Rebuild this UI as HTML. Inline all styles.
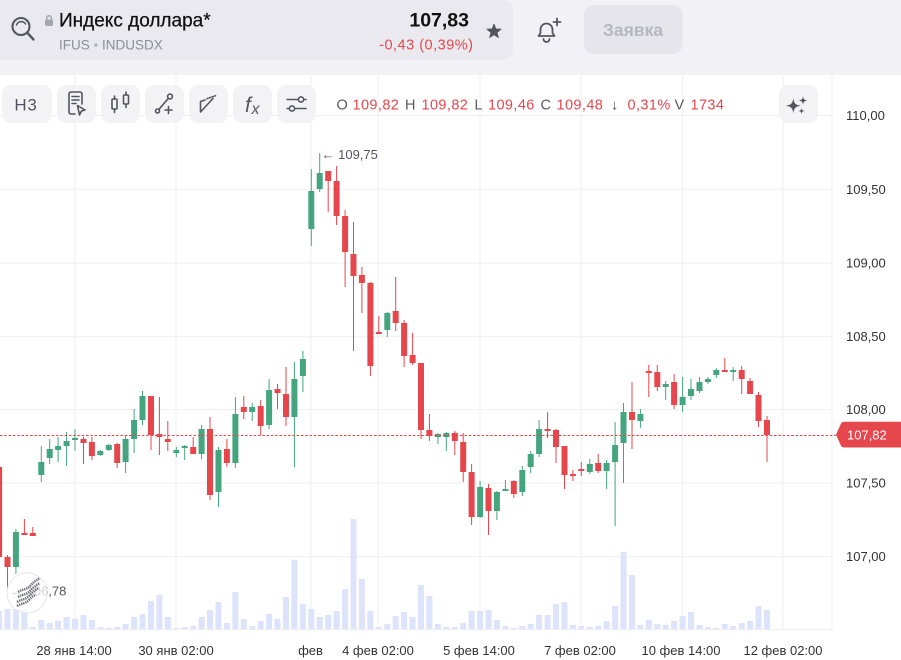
<!DOCTYPE html>
<html><head><meta charset="utf-8"><style>
html,body{margin:0;padding:0;background:#fff;}
body{width:901px;height:660px;overflow:hidden;font-family:"Liberation Sans","Noto Sans CJK SC",sans-serif;}
svg{display:block;}
text{font-family:"Liberation Sans","Noto Sans CJK SC",sans-serif;}
</style></head><body>
<svg width="901" height="660" viewBox="0 0 901 660" xmlns="http://www.w3.org/2000/svg">
<rect x="0" y="0" width="901" height="75" fill="#f2f2f6"/>
<rect x="-12" y="0" width="525" height="59.5" rx="10" fill="#e9e9ef"/>
<rect x="584" y="5" width="98.5" height="49" rx="10" fill="#e5e5eb"/>
<g fill="none" stroke="#55555f" stroke-linecap="round">
<circle cx="21" cy="26.5" r="8.5" stroke-width="2.1"/>
<path d="M16.5,25 A5,5 0 0 1 25.5,24" stroke-width="1.5"/>
<line x1="27.5" y1="33" x2="33.5" y2="39.5" stroke-width="2.4"/>
</g>
<rect x="45" y="19.5" width="8" height="6.5" rx="1.5" fill="#a5a5ae"/>
<path d="M46.6,19.8 v-1.6 a2.4,2.4 0 0 1 4.8,0 v1.6" fill="none" stroke="#a5a5ae" stroke-width="1.5"/>
<text x="59" y="26.5" font-size="19" fill="#111" stroke="#111" stroke-width="0.25">Индекс доллара*</text>
<text x="59" y="49.3" font-size="13.5" fill="#8e8e99">IFUS <tspan fill="#b5b5bd">•</tspan> INDUSDX</text>
<text x="469" y="26.5" font-size="19.5" font-weight="bold" fill="#111" text-anchor="end">107,83</text>
<text x="473.5" y="49.3" font-size="14.5" fill="#e5484d" text-anchor="end" letter-spacing="0.5">-0,43 (0,39%)</text>
<polygon points="494,24 495.88,28.91 501.13,29.18 497.04,32.49 498.41,37.57 494,34.7 489.59,37.57 490.96,32.49 486.87,29.18 492.12,28.91" fill="#55555f" stroke="#55555f" stroke-width="0.8" stroke-linejoin="round"/>
<g fill="none" stroke="#55555f" stroke-width="1.8" stroke-linecap="round" stroke-linejoin="round">
<path d="M538.5,36 H554.5 L552.5,33 V29.5 A6,6 0 0 0 540.5,29.5 V33 Z"/>
<path d="M543.5,39 A3,3 0 0 0 549.5,39"/>
<path d="M557,18.5 v7 M553.5,22 h7"/>
</g>
<text x="633" y="36" font-size="17.5" font-weight="bold" fill="#b7b7c2" text-anchor="middle">Заявка</text>

<g stroke="#efeff2" stroke-width="1">
<line x1="0" y1="115.5" x2="832" y2="115.5"/>
<line x1="0" y1="189.3" x2="832" y2="189.3"/>
<line x1="0" y1="263" x2="832" y2="263"/>
<line x1="0" y1="336.7" x2="832" y2="336.7"/>
<line x1="0" y1="409.5" x2="832" y2="409.5"/>
<line x1="0" y1="483" x2="832" y2="483"/>
<line x1="0" y1="556.7" x2="832" y2="556.7"/>
<line x1="0" y1="629.5" x2="832" y2="629.5"/>
<line x1="75" y1="75" x2="75" y2="629.5"/>
<line x1="176" y1="75" x2="176" y2="629.5"/>
<line x1="311" y1="75" x2="311" y2="629.5"/>
<line x1="378" y1="75" x2="378" y2="629.5"/>
<line x1="480" y1="75" x2="480" y2="629.5"/>
<line x1="581" y1="75" x2="581" y2="629.5"/>
<line x1="682.5" y1="75" x2="682.5" y2="629.5"/>
<line x1="783" y1="75" x2="783" y2="629.5"/>
<line x1="832" y1="75" x2="832" y2="629.5"/>
</g>

<g fill="#dde3fb">
<rect x="-3.9" y="611" width="6" height="18"/><rect x="4.5" y="609" width="6" height="20"/><rect x="12.9" y="609" width="6" height="20"/><rect x="21.4" y="609" width="6" height="20"/><rect x="29.8" y="627" width="6" height="2"/><rect x="38.3" y="620" width="6" height="9"/><rect x="46.7" y="623" width="6" height="6"/><rect x="55.1" y="621" width="6" height="8"/><rect x="63.6" y="617" width="6" height="12"/><rect x="72" y="619" width="6" height="10"/><rect x="80.5" y="615" width="6" height="14"/><rect x="88.9" y="620" width="6" height="9"/><rect x="97.3" y="627" width="6" height="2"/><rect x="105.8" y="628" width="6" height="1"/><rect x="114.2" y="627" width="6" height="2"/><rect x="122.6" y="624" width="6" height="5"/><rect x="131.1" y="617" width="6" height="12"/><rect x="139.5" y="614" width="6" height="15"/><rect x="148" y="601" width="6" height="28"/><rect x="156.4" y="595" width="6" height="34"/><rect x="164.8" y="617" width="6" height="12"/><rect x="173.3" y="628" width="6" height="1"/><rect x="181.7" y="627" width="6" height="2"/><rect x="190.2" y="626" width="6" height="3"/><rect x="198.6" y="617" width="6" height="12"/><rect x="207" y="610" width="6" height="19"/><rect x="215.5" y="602" width="6" height="27"/><rect x="223.9" y="623" width="6" height="6"/><rect x="232.4" y="592" width="6" height="37"/><rect x="240.8" y="619" width="6" height="10"/><rect x="249.2" y="626" width="6" height="3"/><rect x="257.7" y="621" width="6" height="8"/><rect x="266.1" y="614" width="6" height="15"/><rect x="274.5" y="619" width="6" height="10"/><rect x="283" y="597" width="6" height="32"/><rect x="291.4" y="560" width="6" height="69"/><rect x="299.9" y="604" width="6" height="25"/><rect x="308.3" y="609" width="6" height="20"/><rect x="316.7" y="617" width="6" height="12"/><rect x="325.2" y="615" width="6" height="14"/><rect x="333.6" y="611" width="6" height="18"/><rect x="342.1" y="589" width="6" height="40"/><rect x="350.5" y="519" width="6" height="110"/><rect x="358.9" y="579" width="6" height="50"/><rect x="367.4" y="611" width="6" height="18"/><rect x="375.8" y="627" width="6" height="2"/><rect x="384.3" y="624" width="6" height="5"/><rect x="392.7" y="616" width="6" height="13"/><rect x="401.1" y="612" width="6" height="17"/><rect x="409.6" y="617" width="6" height="12"/><rect x="418" y="585" width="6" height="44"/><rect x="426.4" y="596" width="6" height="33"/><rect x="434.9" y="624" width="6" height="5"/><rect x="443.3" y="627" width="6" height="2"/><rect x="451.8" y="627" width="6" height="2"/><rect x="460.2" y="623" width="6" height="6"/><rect x="468.6" y="611" width="6" height="18"/><rect x="477.1" y="611" width="6" height="18"/><rect x="485.5" y="610" width="6" height="19"/><rect x="493.9" y="620" width="6" height="9"/><rect x="502.4" y="626" width="6" height="3"/><rect x="510.8" y="628" width="6" height="1"/><rect x="519.3" y="626" width="6" height="3"/><rect x="527.7" y="624" width="6" height="5"/><rect x="536.1" y="615" width="6" height="14"/><rect x="544.6" y="615" width="6" height="14"/><rect x="553" y="604" width="6" height="25"/><rect x="561.5" y="602" width="6" height="27"/><rect x="569.9" y="625" width="6" height="4"/><rect x="578.3" y="626" width="6" height="3"/><rect x="586.8" y="627" width="6" height="2"/><rect x="595.2" y="626" width="6" height="3"/><rect x="603.6" y="621" width="6" height="8"/><rect x="612.1" y="606" width="6" height="23"/><rect x="620.5" y="552" width="6" height="77"/><rect x="629" y="575" width="6" height="54"/><rect x="637.4" y="625" width="6" height="4"/><rect x="645.8" y="620" width="6" height="9"/><rect x="654.3" y="624" width="6" height="5"/><rect x="662.7" y="625" width="6" height="4"/><rect x="671.1" y="621" width="6" height="8"/><rect x="679.6" y="616" width="6" height="13"/><rect x="688" y="612" width="6" height="17"/><rect x="696.5" y="625" width="6" height="4"/><rect x="704.9" y="627" width="6" height="2"/><rect x="713.3" y="628" width="6" height="1"/><rect x="721.8" y="624" width="6" height="5"/><rect x="730.2" y="626" width="6" height="3"/><rect x="738.7" y="623" width="6" height="6"/><rect x="747.1" y="621" width="6" height="8"/><rect x="755.5" y="606" width="6" height="23"/><rect x="764" y="610" width="6" height="19"/>
</g>

<g fill="#44a57f">
<rect x="12.9" y="532" width="6" height="35"/><rect x="15.4" y="529" width="1" height="45"/>
<rect x="38.3" y="462" width="6" height="13"/><rect x="40.8" y="446" width="1" height="36"/>
<rect x="46.7" y="449" width="6" height="9"/><rect x="49.2" y="439" width="1" height="25"/>
<rect x="55.1" y="446" width="6" height="4"/><rect x="57.6" y="437" width="1" height="25"/>
<rect x="63.6" y="441" width="6" height="5"/><rect x="66.1" y="432" width="1" height="34"/>
<rect x="72" y="438" width="6" height="2"/><rect x="74.5" y="429" width="1" height="22"/>
<rect x="97.3" y="451" width="6" height="4"/><rect x="99.8" y="450" width="1" height="6"/>
<rect x="105.8" y="445" width="6" height="5"/><rect x="108.3" y="444" width="1" height="7"/>
<rect x="122.6" y="439" width="6" height="23"/><rect x="125.1" y="436" width="1" height="37"/>
<rect x="131.1" y="420" width="6" height="19"/><rect x="133.6" y="409" width="1" height="44"/>
<rect x="139.5" y="396" width="6" height="24"/><rect x="142" y="391" width="1" height="34"/>
<rect x="173.3" y="450" width="6" height="3"/><rect x="175.8" y="447" width="1" height="10"/>
<rect x="181.7" y="446" width="6" height="2"/><rect x="184.2" y="445" width="1" height="15"/>
<rect x="198.6" y="429" width="6" height="25"/><rect x="201.1" y="425" width="1" height="34"/>
<rect x="215.5" y="450" width="6" height="42"/><rect x="218" y="447" width="1" height="60"/>
<rect x="232.4" y="414" width="6" height="49"/><rect x="234.9" y="397" width="1" height="71"/>
<rect x="249.2" y="407" width="6" height="5"/><rect x="251.7" y="403" width="1" height="18"/>
<rect x="266.1" y="390" width="6" height="35"/><rect x="268.6" y="379" width="1" height="50"/>
<rect x="291.4" y="379" width="6" height="38"/><rect x="293.9" y="362" width="1" height="105"/>
<rect x="299.9" y="359" width="6" height="17"/><rect x="302.4" y="351" width="1" height="41"/>
<rect x="308.3" y="191" width="6" height="38"/><rect x="310.8" y="169" width="1" height="77"/>
<rect x="316.7" y="173" width="6" height="16"/><rect x="319.2" y="153" width="1" height="39"/>
<rect x="384.3" y="313" width="6" height="17"/><rect x="386.8" y="312" width="1" height="25"/>
<rect x="434.9" y="434" width="6" height="3"/><rect x="437.4" y="433" width="1" height="11"/>
<rect x="443.3" y="433" width="6" height="4"/><rect x="445.8" y="432" width="1" height="19"/>
<rect x="477.1" y="487" width="6" height="30"/><rect x="479.6" y="481" width="1" height="37"/>
<rect x="493.9" y="492" width="6" height="19"/><rect x="496.4" y="491" width="1" height="29"/>
<rect x="502.4" y="489" width="6" height="2"/><rect x="504.9" y="480" width="1" height="11"/>
<rect x="519.3" y="470" width="6" height="22"/><rect x="521.8" y="466" width="1" height="30"/>
<rect x="527.7" y="454" width="6" height="13"/><rect x="530.2" y="451" width="1" height="22"/>
<rect x="536.1" y="429" width="6" height="25"/><rect x="538.6" y="420" width="1" height="37"/>
<rect x="586.8" y="464" width="6" height="8"/><rect x="589.3" y="459" width="1" height="15"/>
<rect x="603.6" y="463" width="6" height="8"/><rect x="606.1" y="460" width="1" height="29"/>
<rect x="612.1" y="445" width="6" height="17"/><rect x="614.6" y="422" width="1" height="104"/>
<rect x="620.5" y="412" width="6" height="31"/><rect x="623" y="403" width="1" height="80"/>
<rect x="637.4" y="414" width="6" height="7"/><rect x="639.9" y="409" width="1" height="19"/>
<rect x="662.7" y="384" width="6" height="3"/><rect x="665.2" y="381" width="1" height="19"/>
<rect x="679.6" y="397" width="6" height="8"/><rect x="682.1" y="377" width="1" height="35"/>
<rect x="688" y="389" width="6" height="7"/><rect x="690.5" y="379" width="1" height="21"/>
<rect x="696.5" y="382" width="6" height="9"/><rect x="699" y="377" width="1" height="16"/>
<rect x="704.9" y="379" width="6" height="3"/><rect x="707.4" y="377" width="1" height="7"/>
<rect x="713.3" y="370" width="6" height="5"/><rect x="715.8" y="368" width="1" height="10"/>
<rect x="730.2" y="370" width="6" height="2"/><rect x="732.7" y="367" width="1" height="14"/>
</g>

<g fill="#e5474d">
<rect x="-3.9" y="467" width="6" height="90"/>
<rect x="4.5" y="557" width="6" height="10"/><rect x="7" y="555" width="1" height="34"/>
<rect x="21.4" y="533" width="6" height="2"/><rect x="23.9" y="519" width="1" height="16"/>
<rect x="29.8" y="533" width="6" height="3"/><rect x="32.3" y="527" width="1" height="9"/>
<rect x="80.5" y="439" width="6" height="4"/><rect x="83" y="437" width="1" height="27"/>
<rect x="88.9" y="442" width="6" height="14"/><rect x="91.4" y="437" width="1" height="23"/>
<rect x="114.2" y="444" width="6" height="19"/><rect x="116.7" y="443" width="1" height="25"/>
<rect x="148" y="396" width="6" height="39"/><rect x="150.5" y="396" width="1" height="54"/>
<rect x="156.4" y="434" width="6" height="3"/><rect x="158.9" y="397" width="1" height="58"/>
<rect x="164.8" y="439" width="6" height="3"/><rect x="167.3" y="421" width="1" height="30"/>
<rect x="190.2" y="447" width="6" height="7"/><rect x="192.7" y="437" width="1" height="17"/>
<rect x="207" y="429" width="6" height="66"/><rect x="209.5" y="417" width="1" height="83"/>
<rect x="223.9" y="449" width="6" height="14"/><rect x="226.4" y="439" width="1" height="28"/>
<rect x="240.8" y="407" width="6" height="5"/><rect x="243.3" y="396" width="1" height="23"/>
<rect x="257.7" y="406" width="6" height="20"/><rect x="260.2" y="400" width="1" height="35"/>
<rect x="274.5" y="389" width="6" height="4"/><rect x="277" y="384" width="1" height="25"/>
<rect x="283" y="394" width="6" height="23"/><rect x="285.5" y="367" width="1" height="59"/>
<rect x="325.2" y="171" width="6" height="10"/><rect x="327.7" y="171" width="1" height="41"/>
<rect x="333.6" y="181" width="6" height="35"/><rect x="336.1" y="166" width="1" height="59"/>
<rect x="342.1" y="216" width="6" height="36"/><rect x="344.6" y="210" width="1" height="77"/>
<rect x="350.5" y="254" width="6" height="22"/><rect x="353" y="222" width="1" height="129"/>
<rect x="358.9" y="275" width="6" height="8"/><rect x="361.4" y="267" width="1" height="46"/>
<rect x="367.4" y="283" width="6" height="83"/><rect x="369.9" y="282" width="1" height="94"/>
<rect x="375.8" y="332" width="6" height="2"/><rect x="378.3" y="316" width="1" height="18"/>
<rect x="392.7" y="311" width="6" height="12"/><rect x="395.2" y="277" width="1" height="54"/>
<rect x="401.1" y="323" width="6" height="33"/><rect x="403.6" y="320" width="1" height="47"/>
<rect x="409.6" y="355" width="6" height="8"/><rect x="412.1" y="333" width="1" height="32"/>
<rect x="418" y="363" width="6" height="67"/><rect x="420.5" y="363" width="1" height="76"/>
<rect x="426.4" y="430" width="6" height="6"/><rect x="428.9" y="414" width="1" height="27"/>
<rect x="451.8" y="433" width="6" height="8"/><rect x="454.3" y="431" width="1" height="24"/>
<rect x="460.2" y="442" width="6" height="30"/><rect x="462.7" y="433" width="1" height="49"/>
<rect x="468.6" y="472" width="6" height="45"/><rect x="471.1" y="464" width="1" height="61"/>
<rect x="485.5" y="488" width="6" height="23"/><rect x="488" y="484" width="1" height="51"/>
<rect x="510.8" y="481" width="6" height="13"/><rect x="513.3" y="480" width="1" height="18"/>
<rect x="544.6" y="429" width="6" height="2"/><rect x="547.1" y="412" width="1" height="26"/>
<rect x="553" y="430" width="6" height="17"/><rect x="555.5" y="429" width="1" height="34"/>
<rect x="561.5" y="446" width="6" height="29"/><rect x="564" y="446" width="1" height="43"/>
<rect x="569.9" y="474" width="6" height="2"/><rect x="572.4" y="470" width="1" height="11"/>
<rect x="578.3" y="469" width="6" height="2"/><rect x="580.8" y="462" width="1" height="14"/>
<rect x="595.2" y="463" width="6" height="8"/><rect x="597.7" y="454" width="1" height="19"/>
<rect x="629" y="412" width="6" height="8"/><rect x="631.5" y="382" width="1" height="67"/>
<rect x="645.8" y="371" width="6" height="2"/><rect x="648.3" y="365" width="1" height="32"/>
<rect x="654.3" y="372" width="6" height="15"/><rect x="656.8" y="365" width="1" height="26"/>
<rect x="671.1" y="382" width="6" height="23"/><rect x="673.6" y="374" width="1" height="35"/>
<rect x="721.8" y="370" width="6" height="2"/><rect x="724.3" y="358" width="1" height="14"/>
<rect x="738.7" y="370" width="6" height="9"/><rect x="741.2" y="366" width="1" height="28"/>
<rect x="747.1" y="381" width="6" height="13"/><rect x="749.6" y="378" width="1" height="16"/>
<rect x="755.5" y="395" width="6" height="26"/><rect x="758" y="392" width="1" height="35"/>
<rect x="764" y="420" width="6" height="15"/><rect x="766.5" y="416" width="1" height="46"/>
</g>

<line x1="0" y1="435.5" x2="836" y2="435.5" stroke="#e5474d" stroke-width="1" stroke-dasharray="2.5,1.8"/>
<path d="M836,434.7 L841,423.5 Q842,421.7 844,421.7 H901 V447.5 H844 Q842,447.5 841,445.8 Z" fill="#e5474d"/>
<text x="847" y="439.5" font-size="13" fill="#ffffff">107,82</text>

<text x="321.5" y="158.8" font-size="13" fill="#55555f">← 109,75</text>
<text x="10" y="595.5" font-size="13" fill="#55555f">← 106,78</text>

<circle cx="27" cy="593" r="20" fill="#ffffff" fill-opacity="0.75" stroke="#e6e6ea" stroke-width="1"/>
<g fill="none" stroke="#6e6e7a" stroke-width="2.4" stroke-dasharray="1.4,0.8">
<path d="M17,602 C22,599 25,600 29,596 S35,590 39,588"/>
<path d="M18,597 C23,594 26,595 30,591 S36,585 40,583"/>
<path d="M18,592 C23,589 26,590 30,586 S36,580 40,578"/>
<path d="M17,606 C22,603 25,604 29,600 S33,596 36,595"/>
</g>

<g font-size="13" fill="#333">
<text x="846" y="120">110,00</text>
<text x="846" y="193.8">109,50</text>
<text x="846" y="267.5">109,00</text>
<text x="846" y="341.2">108,50</text>
<text x="846" y="414">108,00</text>
<text x="846" y="487.5">107,50</text>
<text x="846" y="561.2">107,00</text>
</g>

<g font-size="13" fill="#333" text-anchor="middle">
<text x="74" y="655">28 янв 14:00</text>
<text x="176" y="655">30 янв 02:00</text>
<text x="310.5" y="655">фев</text>
<text x="378" y="655">4 фев 02:00</text>
<text x="479" y="655">5 фев 14:00</text>
<text x="580" y="655">7 фев 02:00</text>
<text x="681" y="655">10 фев 14:00</text>
<text x="783" y="655">12 фев 02:00</text>
</g>

<g fill="#f3f3f6">
<rect x="2" y="85" width="50" height="38" rx="9"/>
<rect x="57" y="85" width="39" height="38" rx="9"/>
<rect x="101" y="85" width="39" height="38" rx="9"/>
<rect x="145" y="85" width="39" height="38" rx="9"/>
<rect x="189" y="85" width="39" height="38" rx="9"/>
<rect x="233" y="85" width="39" height="38" rx="9"/>
<rect x="277" y="85" width="39" height="38" rx="9"/>
<rect x="779" y="85" width="39" height="38" rx="9"/>
</g>
<text x="26" y="110.5" font-size="17" fill="#55555f" text-anchor="middle" letter-spacing="0.8">Н3</text>
<g fill="none" stroke="#55555f" stroke-width="1.6" stroke-linecap="round" stroke-linejoin="round">
<path d="M82,104 V94 a2,2 0 0 0 -2,-2 H71 a2,2 0 0 0 -2,2 V112 a2,2 0 0 0 2,2 H75"/>
<path d="M72,96.5 h7 M72,100 h7 M72,103.5 h4"/>
<path d="M77.5,105.5 L85,110 L81.5,111 L79.5,115 Z"/>
<rect x="112" y="99" width="5" height="10" rx="1"/><path d="M114.5,96 v3 M114.5,109 v3.5"/>
<rect x="123.5" y="95" width="5" height="9" rx="1"/><path d="M126,92 v3 M126,104 v3.5"/>
<circle cx="157.5" cy="111" r="2"/><circle cx="170" cy="96.5" r="2.4"/>
<path d="M159,109.3 L168.4,98.3"/>
<path d="M168.5,106.5 v7 M165,110 h7"/>
<path d="M200.5,112 V101.5 L205,100 M200.5,112 L213,98.5"/>
<path d="M207,98.7 L215.5,95.7" stroke-dasharray="1.2,1.6"/>
<path d="M287,99.5 H306 M287,108.5 H306"/>
</g>
<circle cx="301" cy="99.5" r="2.6" fill="#f3f3f6" stroke="#55555f" stroke-width="1.6"/>
<circle cx="292" cy="108.5" r="2.6" fill="#f3f3f6" stroke="#55555f" stroke-width="1.6"/>
<text x="245" y="112" font-family="Liberation Serif, serif" font-style="italic" font-size="21" fill="#55555f">f</text>
<text x="251.5" y="114" font-family="Liberation Serif, serif" font-style="italic" font-size="16" fill="#55555f">x</text>
<g fill="#55555f">
<path d="M793.3,98.3 C794,103.5 795.5,105 800.8,105.8 C795.5,106.6 794,108.1 793.3,113.3 C792.6,108.1 791.1,106.6 785.8,105.8 C791.1,105 792.6,103.5 793.3,98.3 Z"/>
<path d="M803,96 C803.4,99 804,99.9 807.4,100.5 C804,101.1 803.4,102 803,105 C802.6,102 802,101.1 798.6,100.5 C802,99.9 802.6,99 803,96 Z"/>
<path d="M801.5,107.8 C801.8,110 802.2,110.6 804.7,111 C802.2,111.4 801.8,112 801.5,114.2 C801.2,112 800.8,111.4 798.3,111 C800.8,110.6 801.2,110 801.5,107.8 Z"/>
</g>

<g font-size="14.5" letter-spacing="0.4">
<text x="336.5" y="109.3" fill="#5a5a66">O</text>
<text x="352.5" y="109.3" fill="#e5474d">109,82</text>
<text x="405" y="109.3" fill="#5a5a66">H</text>
<text x="421.5" y="109.3" fill="#e5474d">109,82</text>
<text x="474.5" y="109.3" fill="#5a5a66">L</text>
<text x="488" y="109.3" fill="#e5474d">109,46</text>
<text x="540.5" y="109.3" fill="#5a5a66">C</text>
<text x="556.5" y="109.3" fill="#e5474d">109,48</text>
<text x="611" y="109.3" fill="#5a5a66">↓</text>
<text x="627.5" y="109.3" fill="#e5474d">0,31%</text>
<text x="674.5" y="109.3" fill="#5a5a66">V</text>
<text x="690.5" y="109.3" fill="#e5474d">1734</text>
</g>
</svg>
</body></html>
